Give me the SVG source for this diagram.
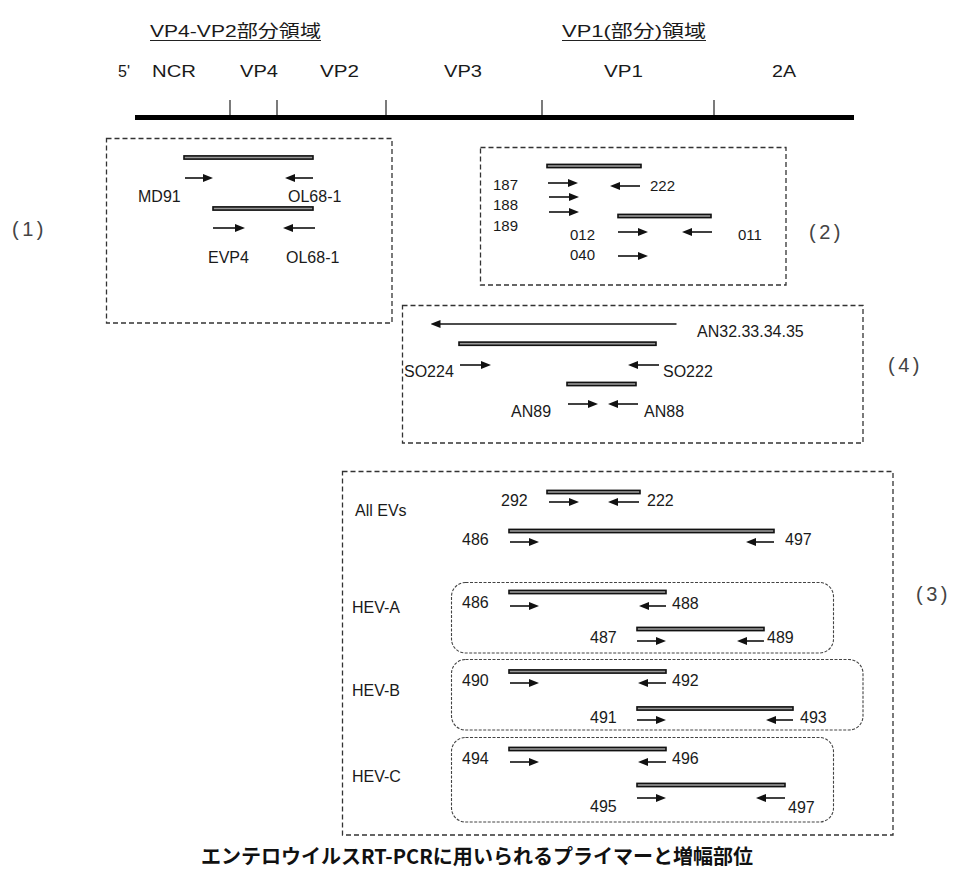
<svg xmlns="http://www.w3.org/2000/svg" width="954" height="873" viewBox="0 0 954 873">
<defs>
<marker id="ah" viewBox="0 0 10 8" refX="6" refY="4" markerWidth="10" markerHeight="8" markerUnits="userSpaceOnUse" orient="auto"><path d="M0,0 L10,4 L0,8 z" fill="#111"/></marker>
</defs>
<style>
.t{font-family:"Liberation Sans",Arial,sans-serif;font-size:16px;fill:#1a1a1a}
.n{font-size:15px}
.j{font-family:"Liberation Sans","Noto Sans CJK JP",sans-serif;font-size:17px;fill:#1a1a1a}
.p{font-family:"Liberation Sans",Arial,sans-serif;font-size:20px;letter-spacing:3.5px;fill:#444}
.cap{font-family:"Noto Sans CJK JP",sans-serif;font-size:20px;font-weight:bold;fill:#111}
.box{fill:none;stroke:#333;stroke-width:1.3;stroke-dasharray:5 3}
.rbox{fill:none;stroke:#444;stroke-width:1.1;stroke-dasharray:3 1.5}
.dl{fill:#999;stroke:#111;stroke-width:1.6}
.ar{stroke:#111;stroke-width:1.6;marker-end:url(#ah)}
.tick{stroke:#222;stroke-width:1.2}
.ul{stroke:#222;stroke-width:1}
</style>
<rect width="954" height="873" fill="#fff"/>

<g id="header">
<text class="j" x="150" y="37" textLength="171" lengthAdjust="spacingAndGlyphs">VP4-VP2部分領域</text>
<line class="ul" x1="150" y1="40.5" x2="321" y2="40.5"/>
<text class="j" x="562" y="37" textLength="144" lengthAdjust="spacingAndGlyphs">VP1(部分)領域</text>
<line class="ul" x1="562" y1="40.5" x2="706" y2="40.5"/>
</g>

<g id="genome">
<text class="t" x="118" y="77">5'</text>
<text class="t" x="152" y="77" textLength="44" lengthAdjust="spacingAndGlyphs">NCR</text>
<text class="t" x="240" y="77" textLength="38" lengthAdjust="spacingAndGlyphs">VP4</text>
<text class="t" x="320" y="77" textLength="39" lengthAdjust="spacingAndGlyphs">VP2</text>
<text class="t" x="444" y="77" textLength="38" lengthAdjust="spacingAndGlyphs">VP3</text>
<text class="t" x="604" y="77" textLength="39" lengthAdjust="spacingAndGlyphs">VP1</text>
<text class="t" x="772" y="77" textLength="24" lengthAdjust="spacingAndGlyphs">2A</text>
<line class="tick" x1="230" y1="100" x2="230" y2="116"/>
<line class="tick" x1="277" y1="100" x2="277" y2="116"/>
<line class="tick" x1="386" y1="100" x2="386" y2="116"/>
<line class="tick" x1="542" y1="100" x2="542" y2="116"/>
<line class="tick" x1="714" y1="100" x2="714" y2="116"/>
<rect x="135" y="115" width="719" height="5" fill="#000"/>
</g>

<g id="panel1">
<rect class="box" x="106.5" y="138.5" width="285.5" height="184.5"/>
<text class="p" x="12" y="236">(1)</text>
<rect class="dl" x="184" y="155.9" width="129" height="3.2"/>
<rect class="dl" x="213" y="206.9" width="100" height="3.2"/>
<g id="panel1-primers">
<line class="ar" x1="185" y1="178" x2="209" y2="178"/>
<line class="ar" x1="313" y1="178" x2="289" y2="178"/>
<line class="ar" x1="213" y1="228" x2="241" y2="228"/>
<line class="ar" x1="315" y1="228" x2="287" y2="228"/>
</g>
<text class="t" x="138" y="202">MD91</text>
<text class="t" x="288" y="202">OL68-1</text>
<text class="t" x="208" y="263">EVP4</text>
<text class="t" x="286" y="263">OL68-1</text>
</g>

<g id="panel2">
<rect class="box" x="480.5" y="147.5" width="305.5" height="137.5"/>
<text class="p" x="809" y="239">(2)</text>
<rect class="dl" x="547" y="164.4" width="94" height="3.2"/>
<rect class="dl" x="618" y="214.4" width="93" height="3.2"/>
<g id="panel2-primers">
<line class="ar" x1="548" y1="183" x2="574" y2="183"/>
<line class="ar" x1="640" y1="186" x2="614" y2="186"/>
<line class="ar" x1="549" y1="197" x2="575" y2="197"/>
<line class="ar" x1="549" y1="212" x2="575" y2="212"/>
<line class="ar" x1="618" y1="232" x2="644" y2="232"/>
<line class="ar" x1="712" y1="232" x2="686" y2="232"/>
<line class="ar" x1="618" y1="256" x2="644" y2="256"/>
</g>
<text class="t n" x="493" y="190">187</text>
<text class="t n" x="650" y="191">222</text>
<text class="t n" x="493" y="210">188</text>
<text class="t n" x="493" y="231">189</text>
<text class="t n" x="570" y="240">012</text>
<text class="t n" x="738" y="240">011</text>
<text class="t n" x="570" y="260">040</text>
</g>

<g id="panel4">
<rect class="box" x="402.5" y="305.5" width="460.5" height="137.5"/>
<text class="p" x="888" y="372">(4)</text>
<rect class="dl" x="459" y="342.1" width="197" height="3.2"/>
<rect class="dl" x="567" y="382.4" width="69" height="3.2"/>
<g id="panel4-primers">
<line class="ar" x1="676.5" y1="324" x2="434.5" y2="324"/>
<line class="ar" x1="460" y1="365" x2="487" y2="365"/>
<line class="ar" x1="659" y1="365" x2="632" y2="365"/>
<line class="ar" x1="568" y1="404" x2="594" y2="404"/>
<line class="ar" x1="638" y1="404" x2="612" y2="404"/>
</g>
<text class="t" x="697" y="337">AN32.33.34.35</text>
<text class="t" x="404" y="377">SO224</text>
<text class="t" x="663" y="377">SO222</text>
<text class="t" x="511" y="417">AN89</text>
<text class="t" x="644" y="417">AN88</text>
</g>

<g id="panel3">
<rect class="box" x="342.5" y="471.5" width="550.5" height="363.5"/>
<text class="p" x="916" y="601">(3)</text>
<g id="all-evs">
<text class="t" x="355" y="516">All EVs</text>
<rect class="dl" x="547" y="490.4" width="93" height="3.2"/>
<rect class="dl" x="509" y="529.4" width="265" height="3.2"/>
<line class="ar" x1="549" y1="502" x2="575" y2="502"/>
<line class="ar" x1="639" y1="502" x2="612" y2="502"/>
<line class="ar" x1="510" y1="542" x2="535" y2="542"/>
<line class="ar" x1="774" y1="542" x2="750" y2="542"/>
<text class="t" x="501" y="506">292</text>
<text class="t" x="647" y="506">222</text>
<text class="t" x="462" y="545">486</text>
<text class="t" x="785" y="545">497</text>
</g>
<g id="hev-a">
<text class="t" x="352" y="613">HEV-A</text>
<rect class="rbox" x="451.5" y="582.5" width="382" height="70.5" rx="14"/>
<rect class="dl" x="509" y="590.4" width="157" height="3.2"/>
<rect class="dl" x="637" y="627.4" width="127" height="3.2"/>
<line class="ar" x1="510" y1="606" x2="535" y2="606"/>
<line class="ar" x1="666" y1="606" x2="643" y2="606"/>
<line class="ar" x1="637" y1="641" x2="662" y2="641"/>
<line class="ar" x1="764" y1="641" x2="741" y2="641"/>
<text class="t" x="462" y="608">486</text>
<text class="t" x="672" y="609">488</text>
<text class="t" x="590" y="643">487</text>
<text class="t" x="767" y="643">489</text>
</g>
<g id="hev-b">
<text class="t" x="352" y="696">HEV-B</text>
<rect class="rbox" x="451.5" y="659.5" width="411.5" height="70.5" rx="14"/>
<rect class="dl" x="509" y="669.9" width="157" height="3.2"/>
<rect class="dl" x="637" y="706.9" width="156" height="3.2"/>
<line class="ar" x1="510" y1="683" x2="535" y2="683"/>
<line class="ar" x1="666" y1="683" x2="642" y2="683"/>
<line class="ar" x1="637" y1="720" x2="662" y2="720"/>
<line class="ar" x1="793" y1="720" x2="770" y2="720"/>
<text class="t" x="462" y="686">490</text>
<text class="t" x="672" y="686">492</text>
<text class="t" x="590" y="723">491</text>
<text class="t" x="800" y="723">493</text>
</g>
<g id="hev-c">
<text class="t" x="352" y="782">HEV-C</text>
<rect class="rbox" x="451.5" y="737.5" width="382" height="84.5" rx="14"/>
<rect class="dl" x="509" y="747.4" width="157" height="3.2"/>
<rect class="dl" x="637" y="783.4" width="148" height="3.2"/>
<line class="ar" x1="510" y1="762" x2="535" y2="762"/>
<line class="ar" x1="666" y1="762" x2="642" y2="762"/>
<line class="ar" x1="637" y1="798" x2="662" y2="798"/>
<line class="ar" x1="785" y1="798" x2="760" y2="798"/>
<text class="t" x="462" y="764">494</text>
<text class="t" x="672" y="764">496</text>
<text class="t" x="590" y="812">495</text>
<text class="t" x="788" y="813">497</text>
</g>
</g>

<g id="caption">
<text class="cap" x="201" y="864" textLength="552" lengthAdjust="spacingAndGlyphs">エンテロウイルスRT-PCRに用いられるプライマーと増幅部位</text>
</g>
</svg>
